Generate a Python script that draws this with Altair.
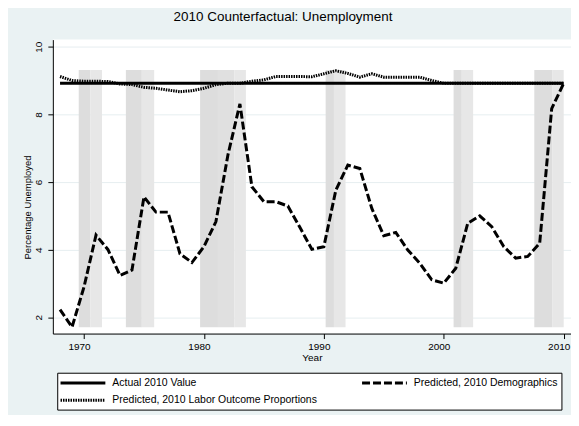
import altair as alt
import pandas as pd

# ---------------- data ----------------
years = list(range(1968, 2011))

actual_years = [1968, 2010]
actual_vals = [8.92, 8.92]

demog_vals = [2.23, 1.71, 2.90, 4.43, 4.00, 3.24, 3.40, 5.56, 5.11, 5.11,
              3.88, 3.62, 4.09, 4.83, 6.80, 8.31, 5.86, 5.42, 5.42, 5.29,
              4.66, 4.01, 4.09, 5.76, 6.50, 6.40, 5.22, 4.41, 4.51, 3.99,
              3.60, 3.11, 3.01, 3.45, 4.78, 5.00, 4.68, 4.09, 3.75, 3.80,
              4.19, 8.17, 8.92]

labor_vals = [9.12, 9.00, 8.98, 8.98, 8.97, 8.90, 8.88, 8.80, 8.77, 8.72,
              8.67, 8.70, 8.77, 8.88, 8.92, 8.92, 8.98, 9.02, 9.12, 9.12,
              9.12, 9.11, 9.20, 9.29, 9.21, 9.10, 9.20, 9.10, 9.10, 9.10,
              9.10, 9.00, 8.92, 8.92, 8.92, 8.92, 8.92, 8.92, 8.92, 8.92,
              8.92, 8.92, 8.92]

series_names = ["Actual 2010 Value",
                "Predicted, 2010 Demographics",
                "Predicted, 2010 Labor Outcome Proportions"]

# recession shading (years)
shade_start = [1969.56, 1970.53, 1973.49, 1974.82, 1979.68, 1981.17, 1982.53,
               1990.15, 1990.84, 2000.82, 2001.50, 2007.55, 2009.04]
shade_end = [1970.53, 1971.50, 1974.82, 1975.85, 1981.17, 1982.53, 1983.50,
             1990.84, 1991.81, 2001.50, 2002.45, 2009.04, 2010.00]
shade_tone = ["dark", "light", "dark", "light", "dark", "dark2", "light",
              "dark", "light", "dark", "light", "dark", "light"]
shade_lo = 1.71
shade_hi = 9.31

x_ticks = [1970, 1980, 1990, 2000, 2010]
y_ticks = [2, 4, 6, 8, 10]

# ---------------- tables ----------------
rows = []
for yr, v in zip(actual_years, actual_vals):
    rows.append({"year": yr, "value": v, "series": series_names[0]})
for yr, v in zip(years, demog_vals):
    rows.append({"year": yr, "value": v, "series": series_names[1]})
for yr, v in zip(years, labor_vals):
    rows.append({"year": yr, "value": v, "series": series_names[2]})
df = pd.DataFrame(rows)

shade_df = pd.DataFrame({"start": shade_start, "end": shade_end, "tone": shade_tone})

FONT = "Liberation Sans"
xscale = alt.Scale(domain=[1967.40, 2010.61], nice=False, zero=False)
yscale = alt.Scale(domain=[1.52, 10.21], nice=False, zero=False)

xaxis = alt.Axis(values=x_ticks, format="d", title="Year", labelFontSize=10,
                 titleFontSize=10, titleFontWeight="normal", labelColor="black",
                 titleColor="black", domainColor="black", tickColor="black",
                 tickSize=5, labelPadding=3, grid=False, labelFlush=False,
                 labelOffset=-5, titleBaseline="middle", titleY=24.5, titleX=260)
yaxis = alt.Axis(values=y_ticks, title="Percentage Unemployed", labelAngle=270,
                 labelFontSize=10, titleFontSize=9.5, titleFontWeight="normal",
                 labelColor="black", titleColor="black", domainColor="black",
                 tickColor="black", tickSize=5, labelPadding=4, grid=True,
                 gridColor="#E6EEF0", gridWidth=1, titleAngle=270,
                 titleAlign="center", titleBaseline="middle", titleX=-25, titleY=168)

shades = alt.Chart(shade_df).mark_rect().encode(
    x=alt.X("start:Q", scale=xscale, axis=xaxis),
    x2="end:Q",
    y=alt.Y(datum=shade_lo, type="quantitative", scale=yscale, axis=yaxis),
    y2=alt.Y2(datum=shade_hi),
    color=alt.Color("tone:N", scale=alt.Scale(domain=["dark", "dark2", "light"],
                                              range=["#DDDDDD", "#E0E0E0", "#E7E7E7"]),
                    legend=None),
)

nb = "\u00a0" * 4
label_expr = f"datum.label === '{series_names[1]}' ? datum.label + '{nb}' : datum.label"

lines = alt.Chart(df).mark_line(color="black").encode(
    x=alt.X("year:Q", scale=xscale),
    y=alt.Y("value:Q", scale=yscale),
    strokeDash=alt.StrokeDash(
        "series:N",
        scale=alt.Scale(domain=series_names, range=[[1, 0], [8, 3], [1.5, 1]]),
        legend=alt.Legend(title=None, orient="none", legendX=4.4, legendY=334.3,
                          columns=2, direction="horizontal",
                          symbolType="M-1.27,0H6.91", symbolSize=121,
                          symbolStrokeWidth=3, symbolStrokeColor="black",
                          labelOffset=38, labelFontSize=10.5, labelFont=FONT,
                          labelColor="black", labelLimit=400, padding=3.3,
                          rowPadding=4.4, columnPadding=38.6, strokeColor="black",
                          fillColor="white", labelExpr=label_expr),
    ),
    strokeWidth=alt.StrokeWidth(
        "series:N", scale=alt.Scale(domain=series_names, range=[3, 3, 2.5]),
        legend=None),
)

chart = alt.layer(shades, lines).properties(
    width=520, height=295,
    padding={"left": 45, "top": 31, "right": 0, "bottom": 81},
    autosize=alt.AutoSizeParams(type="none"),
    title=alt.TitleParams("2010 Counterfactual: Unemployment", font=FONT,
                          fontSize=13.5, fontWeight="normal", color="black",
                          anchor="middle", frame="group", dx=-29, offset=5.5,
                          baseline="alphabetic"),
).configure(
    background="#EAF2F3", font=FONT
).configure_view(
    fill="white", stroke=None
)

chart.save("out.html", embed_options={"renderer": "svg", "actions": False})
